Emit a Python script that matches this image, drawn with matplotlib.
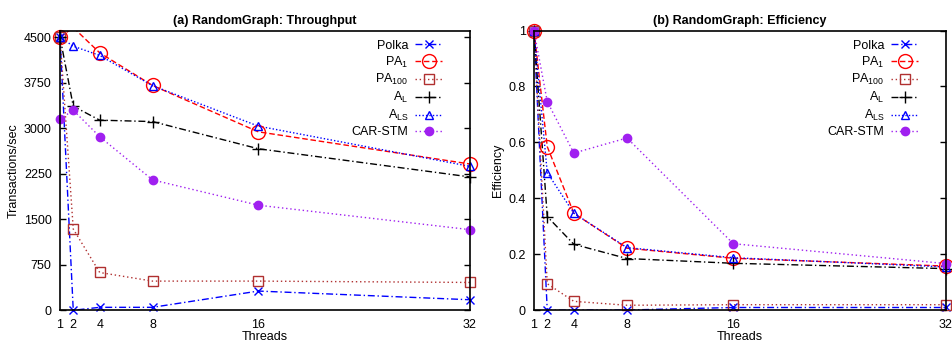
import matplotlib
matplotlib.use("Agg")
import matplotlib.pyplot as plt
import numpy as np
from matplotlib.lines import Line2D

plt.rcParams['font.family'] = ['Liberation Sans', 'DejaVu Sans']
plt.rcParams['mathtext.default'] = 'regular'
plt.rcParams['font.size'] = 9

threads = [1, 2, 4, 8, 16, 32]

# (a) Throughput
tp_polka = [4500, 0, 49, 49, 317, 174]
tp_pa1 = [4500, 4660, 4243, 3705, 2941, 2411]
tp_pa100 = [4500, 1339, 623, 481, 481, 459]
tp_al = [4500, 3363, 3133, 3110, 2662, 2198]
tp_als = [4500, 4352, 4200, 3701, 3035, 2372]
tp_car = [3150, 3297, 2860, 2149, 1732, 1329]

# (b) Efficiency
ef_polka = [1.0, 0.0, 0.001, 0.001, 0.01, 0.01]
ef_pa1 = [1.0, 0.585, 0.347, 0.222, 0.186, 0.158]
ef_pa100 = [1.0, 0.095, 0.032, 0.018, 0.02, 0.02]
ef_al = [1.0, 0.335, 0.236, 0.185, 0.168, 0.149]
ef_als = [1.0, 0.492, 0.347, 0.224, 0.188, 0.155]
ef_car = [1.0, 0.746, 0.562, 0.616, 0.238, 0.167]

labels = ['Polka', r'PA$_{1}$', r'PA$_{100}$', r'A$_{L}$', r'A$_{LS}$', 'CAR-STM']

tp_ticks = [0, 750, 1500, 2250, 3000, 3750, 4500]
ef_ticks = [0, 0.2, 0.4, 0.6, 0.8, 1]
ef_ticklabels = ['0', '0.2', '0.4', '0.6', '0.8', '1']

styles = [
    dict(color='#0000ff', ls=(0, (5, 2, 1, 2)), marker='x', ms=6, mfc='none'),
    dict(color='#ff0000', ls=(0, (4, 2)), marker='o', ms=10, mfc='none'),
    dict(color='#b03030', ls=(0, (1, 2)), marker='s', ms=7, mfc='none'),
    dict(color='#000000', ls=(0, (5, 2, 1, 2)), marker='+', ms=8, mfc='none'),
    dict(color='#0000ff', ls=(0, (1, 1.5)), marker='^', ms=6, mfc='none'),
    dict(color='#a020f0', ls=(0, (1, 2)), marker='o', ms=6, mfc='#a020f0'),
]

fig = plt.figure(figsize=(9.53, 3.42), dpi=100)
ax1 = fig.add_axes([0.063, 0.0927, 0.430, 0.818])
ax2 = fig.add_axes([0.5603, 0.0927, 0.4323, 0.818])

def draw(ax, series, yticks, yticklabels, ylim, title, ylabel):
    handles = []
    x = np.array(threads)
    for ys, st, lab in zip(series, styles, labels):
        ys = np.array(ys, dtype=float)
        ax.plot(x, ys, lw=1.0, color=st['color'], ls=st['ls'], clip_on=True, zorder=2)
        inr = (ys >= ylim[0]) & (ys <= ylim[1])
        ax.plot(x[inr], ys[inr], ls='none', marker=st['marker'], ms=st['ms'],
                mfc=st['mfc'], mec=st['color'], mew=1.0, clip_on=False, zorder=3)
        handles.append(Line2D([], [], color=st['color'], ls=st['ls'], lw=1.0,
                              marker=st['marker'], ms=st['ms'], mfc=st['mfc'],
                              mec=st['color'], mew=1.0, label=lab))
    ax.set_xlim(1, 32)
    ax.set_ylim(*ylim)
    ax.set_xticks(threads)
    ax.set_yticks(yticks)
    ax.set_yticklabels(yticklabels)
    ax.tick_params(axis='y', direction='in', right=True, length=4, width=1, pad=6, labelsize=9)
    ax.tick_params(axis='x', length=0, pad=6, labelsize=9)
    for s in ax.spines.values():
        s.set_linewidth(1.2)
        s.set_zorder(4)
    ax.set_title(title, fontweight='bold', fontsize=9, pad=5)
    ax.set_xlabel('Threads', fontsize=9, labelpad=0)
    ax.set_ylabel(ylabel, fontsize=9, labelpad=3)
    ax.legend(handles=handles, loc='upper right', bbox_to_anchor=(0.945, 0.985), frameon=False,
              markerfirst=False, handlelength=2.2, handletextpad=0.5,
              labelspacing=0.22, borderaxespad=0, fontsize=9)

draw(ax1, [tp_polka, tp_pa1, tp_pa100, tp_al, tp_als, tp_car], tp_ticks,
     [str(t) for t in tp_ticks], (0, 4610), '(a) RandomGraph: Throughput', 'Transactions/sec')
draw(ax2, [ef_polka, ef_pa1, ef_pa100, ef_al, ef_als, ef_car], ef_ticks,
     ef_ticklabels, (0, 1.0), '(b) RandomGraph: Efficiency', 'Efficiency')

fig.savefig('out.png', dpi=100)
